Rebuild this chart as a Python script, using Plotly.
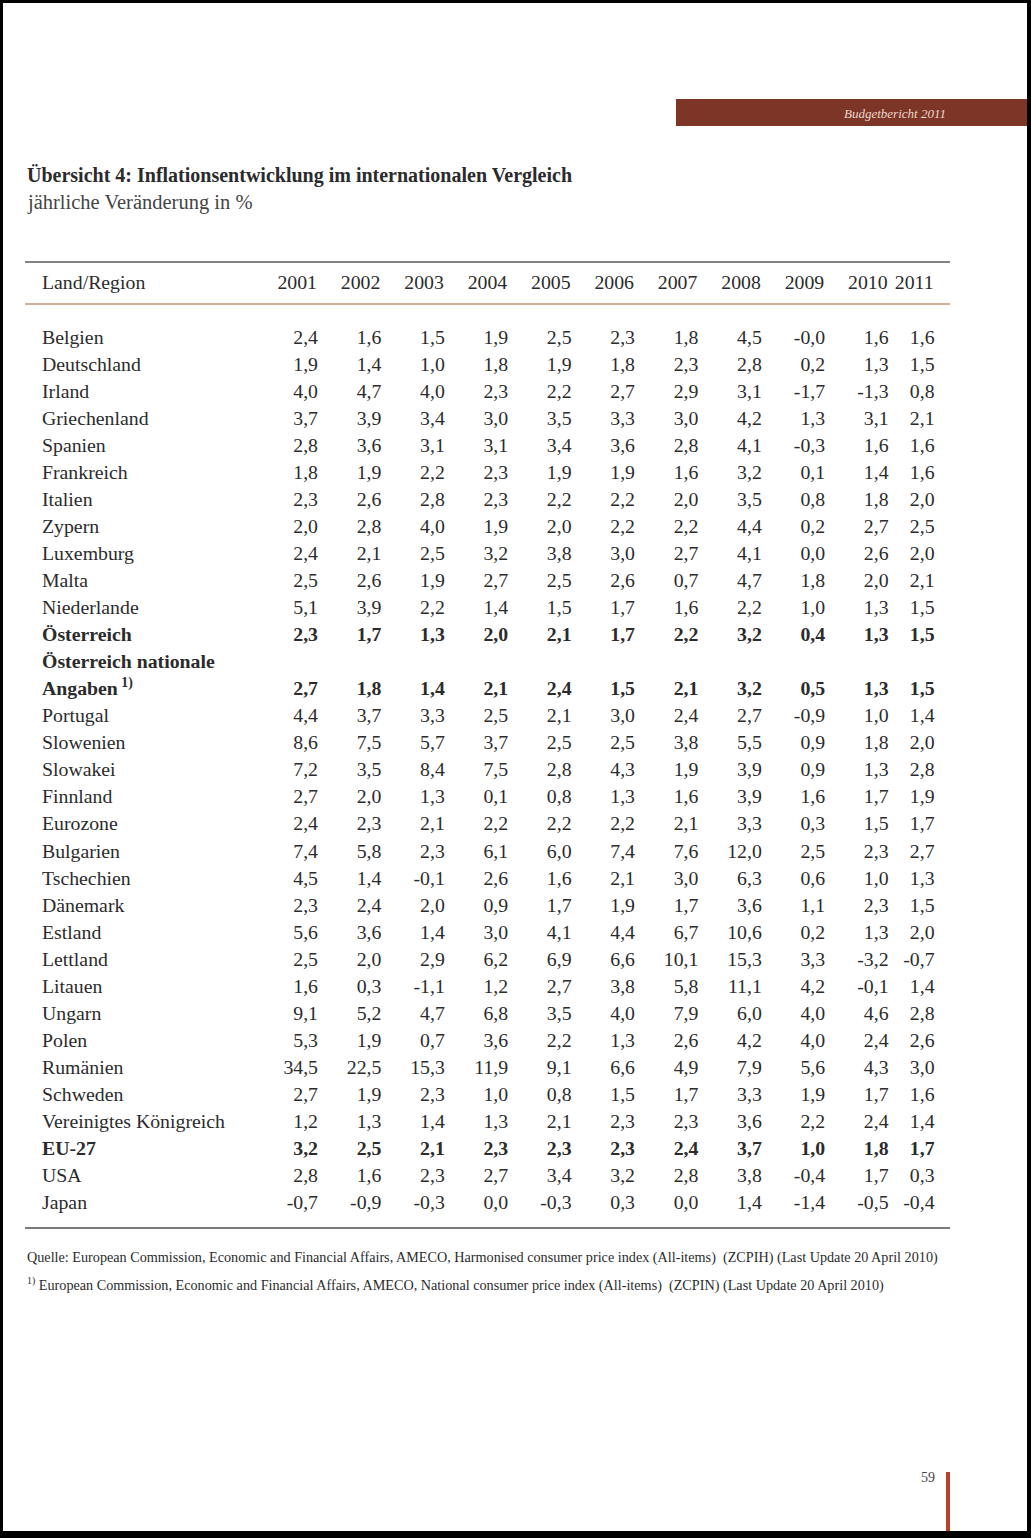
import plotly.graph_objects as go

# ---------------- data ----------------
countries = [
    "Belgien", "Deutschland", "Irland", "Griechenland", "Spanien", "Frankreich",
    "Italien", "Zypern", "Luxemburg", "Malta", "Niederlande", "Österreich",
    "Österreich nationale<br>Angaben<sup> 1)</sup>", "Portugal", "Slowenien",
    "Slowakei", "Finnland", "Eurozone", "Bulgarien", "Tschechien", "Dänemark",
    "Estland", "Lettland", "Litauen", "Ungarn", "Polen", "Rumänien", "Schweden",
    "Vereinigtes Königreich", "EU-27", "USA", "Japan",
]
bold_rows = ["Österreich", "Österreich nationale<br>Angaben<sup> 1)</sup>", "EU-27"]
years = ["2001", "2002", "2003", "2004", "2005", "2006", "2007", "2008", "2009", "2010", "2011"]

y2001 = [2.4, 1.9, 4.0, 3.7, 2.8, 1.8, 2.3, 2.0, 2.4, 2.5, 5.1, 2.3, 2.7, 4.4, 8.6, 7.2,
         2.7, 2.4, 7.4, 4.5, 2.3, 5.6, 2.5, 1.6, 9.1, 5.3, 34.5, 2.7, 1.2, 3.2, 2.8, -0.7]
y2002 = [1.6, 1.4, 4.7, 3.9, 3.6, 1.9, 2.6, 2.8, 2.1, 2.6, 3.9, 1.7, 1.8, 3.7, 7.5, 3.5,
         2.0, 2.3, 5.8, 1.4, 2.4, 3.6, 2.0, 0.3, 5.2, 1.9, 22.5, 1.9, 1.3, 2.5, 1.6, -0.9]
y2003 = [1.5, 1.0, 4.0, 3.4, 3.1, 2.2, 2.8, 4.0, 2.5, 1.9, 2.2, 1.3, 1.4, 3.3, 5.7, 8.4,
         1.3, 2.1, 2.3, -0.1, 2.0, 1.4, 2.9, -1.1, 4.7, 0.7, 15.3, 2.3, 1.4, 2.1, 2.3, -0.3]
y2004 = [1.9, 1.8, 2.3, 3.0, 3.1, 2.3, 2.3, 1.9, 3.2, 2.7, 1.4, 2.0, 2.1, 2.5, 3.7, 7.5,
         0.1, 2.2, 6.1, 2.6, 0.9, 3.0, 6.2, 1.2, 6.8, 3.6, 11.9, 1.0, 1.3, 2.3, 2.7, 0.0]
y2005 = [2.5, 1.9, 2.2, 3.5, 3.4, 1.9, 2.2, 2.0, 3.8, 2.5, 1.5, 2.1, 2.4, 2.1, 2.5, 2.8,
         0.8, 2.2, 6.0, 1.6, 1.7, 4.1, 6.9, 2.7, 3.5, 2.2, 9.1, 0.8, 2.1, 2.3, 3.4, -0.3]
y2006 = [2.3, 1.8, 2.7, 3.3, 3.6, 1.9, 2.2, 2.2, 3.0, 2.6, 1.7, 1.7, 1.5, 3.0, 2.5, 4.3,
         1.3, 2.2, 7.4, 2.1, 1.9, 4.4, 6.6, 3.8, 4.0, 1.3, 6.6, 1.5, 2.3, 2.3, 3.2, 0.3]
y2007 = [1.8, 2.3, 2.9, 3.0, 2.8, 1.6, 2.0, 2.2, 2.7, 0.7, 1.6, 2.2, 2.1, 2.4, 3.8, 1.9,
         1.6, 2.1, 7.6, 3.0, 1.7, 6.7, 10.1, 5.8, 7.9, 2.6, 4.9, 1.7, 2.3, 2.4, 2.8, 0.0]
y2008 = [4.5, 2.8, 3.1, 4.2, 4.1, 3.2, 3.5, 4.4, 4.1, 4.7, 2.2, 3.2, 3.2, 2.7, 5.5, 3.9,
         3.9, 3.3, 12.0, 6.3, 3.6, 10.6, 15.3, 11.1, 6.0, 4.2, 7.9, 3.3, 3.6, 3.7, 3.8, 1.4]
y2009 = [-0.0, 0.2, -1.7, 1.3, -0.3, 0.1, 0.8, 0.2, 0.0, 1.8, 1.0, 0.4, 0.5, -0.9, 0.9, 0.9,
         1.6, 0.3, 2.5, 0.6, 1.1, 0.2, 3.3, 4.2, 4.0, 4.0, 5.6, 1.9, 2.2, 1.0, -0.4, -1.4]
y2010 = [1.6, 1.3, -1.3, 3.1, 1.6, 1.4, 1.8, 2.7, 2.6, 2.0, 1.3, 1.3, 1.3, 1.0, 1.8, 1.3,
         1.7, 1.5, 2.3, 1.0, 2.3, 1.3, -3.2, -0.1, 4.6, 2.4, 4.3, 1.7, 2.4, 1.8, 1.7, -0.5]
y2011 = [1.6, 1.5, 0.8, 2.1, 1.6, 1.6, 2.0, 2.5, 2.0, 2.1, 1.5, 1.5, 1.5, 1.4, 2.0, 2.8,
         1.9, 1.7, 2.7, 1.3, 1.5, 2.0, -0.7, 1.4, 2.8, 2.6, 3.0, 1.6, 1.4, 1.7, 0.3, -0.4]
columns = [y2001, y2002, y2003, y2004, y2005, y2006, y2007, y2008, y2009, y2010, y2011]

title = "Übersicht 4: Inflationsentwicklung im internationalen Vergleich"
subtitle = "jährliche Veränderung in %"
header_label = "Land/Region"
source1 = ("Quelle: European Commission, Economic and Financial Affairs, AMECO, Harmonised consumer "
           "price index (All-items)  (ZCPIH) (Last Update 20 April 2010)")
source2 = ("<sup>1)</sup> European Commission, Economic and Financial Affairs, AMECO, National consumer "
           "price index (All-items)  (ZCPIN) (Last Update 20 April 2010)")
running_head = "Budgetbericht 2011"
page_no = "59"

# ---------------- layout / style ----------------
W, H = 1031, 1538
FONT = "Liberation Serif"
INK = "#2b2b2b"
FS = 19.8
label_x = 42
first_col_right = 318
col_widths = [63.4] * 9 + [46]
row_top = 339
row_pitch = 27.03
header_y = 284

col_x = [first_col_right]
for w in col_widths:
    col_x.append(col_x[-1] + w)


def fmt(v):
    return f"{v:.1f}".replace(".", ",")


# row slots (multi-line labels use several slots)
label_x_pts, label_y_pts, label_txt = [], [], []
val_x, val_y, val_txt = [], [], []
slot = 0
for i, name in enumerate(countries):
    lines = name.split("<br>")
    bold = name in bold_rows
    for j, line in enumerate(lines):
        label_x_pts.append(label_x)
        label_y_pts.append(row_top + (slot + j) * row_pitch)
        label_txt.append(f"<b>{line}</b>" if bold else line)
    vrow = row_top + (slot + len(lines) - 1) * row_pitch
    for c, col in enumerate(columns):
        val_x.append(col_x[c])
        val_y.append(vrow)
        t = fmt(col[i])
        val_txt.append(f"<b>{t}</b>" if bold else t)
    slot += len(lines)

fig = go.Figure()
fig.add_trace(go.Scatter(
    x=label_x_pts, y=label_y_pts, text=label_txt, mode="text",
    textposition="middle right", textfont=dict(family=FONT, size=FS, color=INK),
    hoverinfo="skip", showlegend=False))
fig.add_trace(go.Scatter(
    x=val_x, y=val_y, text=val_txt, mode="text",
    textposition="middle left", textfont=dict(family=FONT, size=FS, color=INK),
    hoverinfo="skip", showlegend=False))
# header row
fig.add_trace(go.Scatter(
    x=[label_x] + [cx - 1 for cx in col_x], y=[header_y] * (len(years) + 1),
    text=[header_label] + years, mode="text",
    textposition=["middle right"] + ["middle left"] * len(years),
    textfont=dict(family=FONT, size=FS, color=INK),
    hoverinfo="skip", showlegend=False))

shapes = [
    # scan border
    dict(type="rect", x0=0, x1=W, y0=0, y1=3, fillcolor="black", line_width=0),
    dict(type="rect", x0=0, x1=3, y0=0, y1=H, fillcolor="black", line_width=0),
    dict(type="rect", x0=1027, x1=W, y0=0, y1=H, fillcolor="black", line_width=0),
    dict(type="rect", x0=0, x1=W, y0=1531, y1=H, fillcolor="black", line_width=0),
    # running head band
    dict(type="rect", x0=676, x1=1027, y0=99, y1=126, fillcolor="#7d3527", line_width=0),
    # table rules
    dict(type="line", x0=25, x1=950, y0=262, y1=262, line=dict(color="#5a5a5a", width=1.6)),
    dict(type="line", x0=25, x1=950, y0=304, y1=304, line=dict(color="#c4907c", width=1.6)),
    dict(type="line", x0=25, x1=950, y0=1228, y1=1228, line=dict(color="#7a7a7a", width=2)),
    # page number bar
    dict(type="rect", x0=946, x1=950, y0=1472, y1=1531, fillcolor="#b9402d", line_width=0),
]
for s in shapes:
    s.update(xref="x", yref="y", layer="above")

annotations = [
    dict(x=25, y=175, text=f"<b>{title}</b>", xanchor="left", yanchor="middle",
         font=dict(family=FONT, size=20, color=INK)),
    dict(x=25, y=202, text=subtitle, xanchor="left", yanchor="middle",
         font=dict(family=FONT, size=20.5, color="#444444")),
    dict(x=948, y=113, text=f"<i>{running_head}</i>", xanchor="right", yanchor="middle",
         font=dict(family=FONT, size=13, color="#eed6cc")),
    dict(x=25, y=1257, text=source1, xanchor="left", yanchor="middle",
         font=dict(family=FONT, size=14.2, color=INK)),
    dict(x=25, y=1284, text=source2, xanchor="left", yanchor="middle",
         font=dict(family=FONT, size=14.2, color=INK)),
    dict(x=937, y=1477, text=page_no, xanchor="right", yanchor="middle",
         font=dict(family=FONT, size=14, color="#444444")),
]
for a in annotations:
    a.update(xref="x", yref="y", showarrow=False)

fig.update_layout(
    width=W, height=H, margin=dict(l=0, r=0, t=0, b=0),
    paper_bgcolor="white", plot_bgcolor="white",
    xaxis=dict(range=[0, W], visible=False, fixedrange=True),
    yaxis=dict(range=[H, 0], visible=False, fixedrange=True),
    shapes=shapes, annotations=annotations, showlegend=False,
    hovermode=False,
)
fig.write_html("out.html",
               config={"displayModeBar": False, "staticPlot": True},
               post_script="document.body.style.margin='0';document.body.style.overflow='hidden';")
